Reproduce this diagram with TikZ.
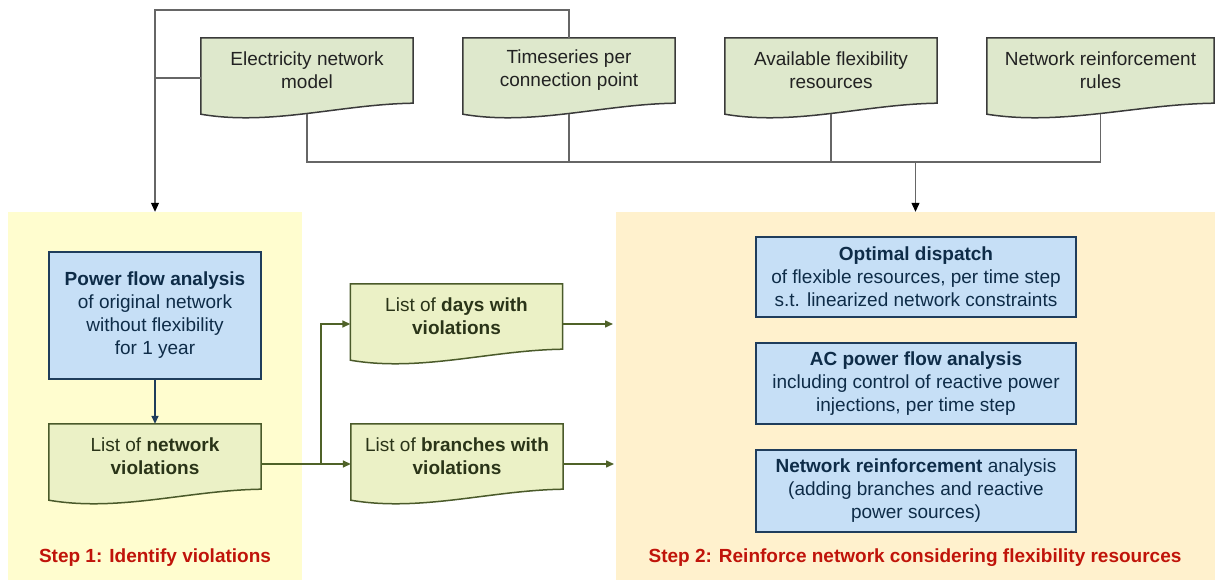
\documentclass[tikz,border=0pt]{standalone}
\usepackage{fontspec}
\setmainfont{Liberation Sans}
\usetikzlibrary{arrows.meta,calc}

\definecolor{panelA}{HTML}{FFFDCF}
\definecolor{panelB}{HTML}{FFF1CD}
\definecolor{topfill}{HTML}{DEE8CC}
\definecolor{topline}{HTML}{3A3A3A}
\definecolor{topink}{HTML}{222222}
\definecolor{stepfill}{HTML}{EBF1C6}
\definecolor{stepline}{HTML}{4A5A2A}
\definecolor{stepink}{HTML}{2A3418}
\definecolor{bluefill}{HTML}{C6DFF6}
\definecolor{blueline}{HTML}{1F3D5C}
\definecolor{blueink}{HTML}{0E2C48}
\definecolor{wire}{HTML}{666666}
\definecolor{greenwire}{HTML}{4F6228}
\definecolor{steplabel}{HTML}{C0140A}

\pgfdeclarelayer{panels}
\pgfdeclarelayer{shapes}
\pgfsetlayers{panels,shapes,main}

% outline of a document shape with a wavy lower edge, drawn behind node #1
\newcommand\docoutline[3]{%
  \begin{pgfonlayer}{shapes}
    \path[fill=#2, draw=#3, line width=1.5pt, line join=miter]
      let \p1=(#1.north west), \p2=(#1.south east), \n1={\x2-\x1} in
      (\p1) -- (\x2,\y1) -- (\p2)
      .. controls ($(\p2)+(-0.34*\n1,1)$) and ($(\x1,\y2)+(0.33*\n1,23)$) .. ($(\x1,\y2)+(0,11)$)
      -- cycle;
  \end{pgfonlayer}}

\begin{document}
\begin{tikzpicture}[x=1pt,y=-1pt,
  txt/.style={font=\fontsize{19}{23}\selectfont, align=center, inner sep=0pt},
  docbox/.style={txt, minimum width=212pt, minimum height=65pt},
  topdoc/.style={docbox, text=topink},
  stepdoc/.style={docbox, text=stepink},
  proc/.style={txt, draw=blueline, fill=bluefill, line width=1.5pt, text=blueink},
  panel/.style={inner sep=0pt, minimum height=368pt},
  steptitle/.style={txt, font=\fontsize{19}{23}\selectfont\bfseries, text=steplabel},
  graywire/.style={draw=wire, line width=1.1pt},
  greenarrow/.style={draw=greenwire, line width=1.5pt, -{Triangle[length=8pt,width=7pt]}},
  blacktip/.style={-{Triangle[length=9pt,width=8pt,color=black]}}
]
\useasboundingbox (0,0) rectangle (1215,580);

% step panels
\begin{pgfonlayer}{panels}
  \node[panel, fill=panelA, minimum width=294pt] (p1) at (155,396) {};
  \node[panel, fill=panelB, minimum width=599pt] (p2) at (915.5,396) {};
\end{pgfonlayer}

% input documents
\node[topdoc] (elec)  at (307,70.5)    {Electricity network\\model};
\node[topdoc] (ts)    at (569,70.5)    {Timeseries per\\connection point};
\node[topdoc] (flex)  at (831,70.5)    {Available flexibility\\resources};
\node[topdoc, minimum width=227pt] (rules) at (1100.5,70.5) {Network reinforcement\\rules};
\foreach \d in {elec,ts,flex,rules} {\docoutline{\d}{topfill}{topline}}

% step 1
\node[proc, minimum width=212pt, minimum height=127pt] (pfa) at (155,315.5)
  {\textbf{Power flow analysis}\\of original network\\without flexibility\\for 1 year};
\node[stepdoc] (nv)   at (155,456.5)   {List of \textbf{network}\\\textbf{violations}};
\node[stepdoc] (days) at (456.5,316.5) {List of \textbf{days with}\\\textbf{violations}};
\node[stepdoc] (br)   at (457,456.5)   {List of \textbf{branches with}\\\textbf{violations}};
\foreach \d in {nv,days,br} {\docoutline{\d}{stepfill}{stepline}}

% step 2
\node[proc, minimum width=320pt, minimum height=80pt] (od) at (916,277)
  {\textbf{Optimal dispatch}\\of flexible resources, per time step\\s.t. linearized network constraints};
\node[proc, minimum width=320pt, minimum height=81pt] (ac) at (916,383.5)
  {\textbf{AC power flow analysis}\\including control of reactive power\\injections, per time step};
\node[proc, minimum width=320pt, minimum height=82pt] (nr) at (916,491)
  {\textbf{Network reinforcement} analysis\\(adding branches and reactive\\power sources)};

\node[steptitle] (s1) at (155,558) {Step 1: Identify violations};
\node[steptitle] (s2) at (915,558) {Step 2: Reinforce network considering flexibility resources};

% inputs to step 1
\coordinate (loopL) at (155,10);
\coordinate (loopR) at (569,10);
\coordinate (tap)   at (155,78);
\draw[graywire] (ts.north) -- (loopR) -- (loopL) -- (tap);
\draw[graywire] (tap) -- (elec.west |- tap);
\draw[graywire, blacktip] (tap) -- (p1.north);

% inputs to step 2
\coordinate (bus) at (307,162);
\draw[graywire] ([yshift=-10.5pt]elec.south) -- (elec.south |- bus) -- (rules.south |- bus) -- ([yshift=-10.5pt]rules.south);
\draw[graywire] ([yshift=-10.5pt]ts.south) -- (ts.south |- bus);
\draw[graywire] ([yshift=-10.5pt]flex.south) -- (flex.south |- bus);
\draw[graywire, blacktip] (p2.north |- bus) -- (p2.north);

% step 1 flow
\draw[draw=blueline, line width=1.5pt, -{Triangle[length=8pt,width=7pt]}] (pfa.south) -- (nv.north);
\coordinate (split) at (321,464);
\coordinate (daysin) at (321,324);
\coordinate (daysout) at (613,324);
\coordinate (brout) at (614,464);
\draw[draw=greenwire, line width=1.5pt] (nv.east |- split) -- (split);
\draw[greenarrow] (split) -- (br.west |- split);
\draw[greenarrow] (split) -- (daysin) -- (days.west |- daysin);
\draw[greenarrow] (days.east |- daysout) -- (daysout);
\draw[greenarrow] (br.east |- brout) -- (brout);
\end{tikzpicture}
\end{document}
